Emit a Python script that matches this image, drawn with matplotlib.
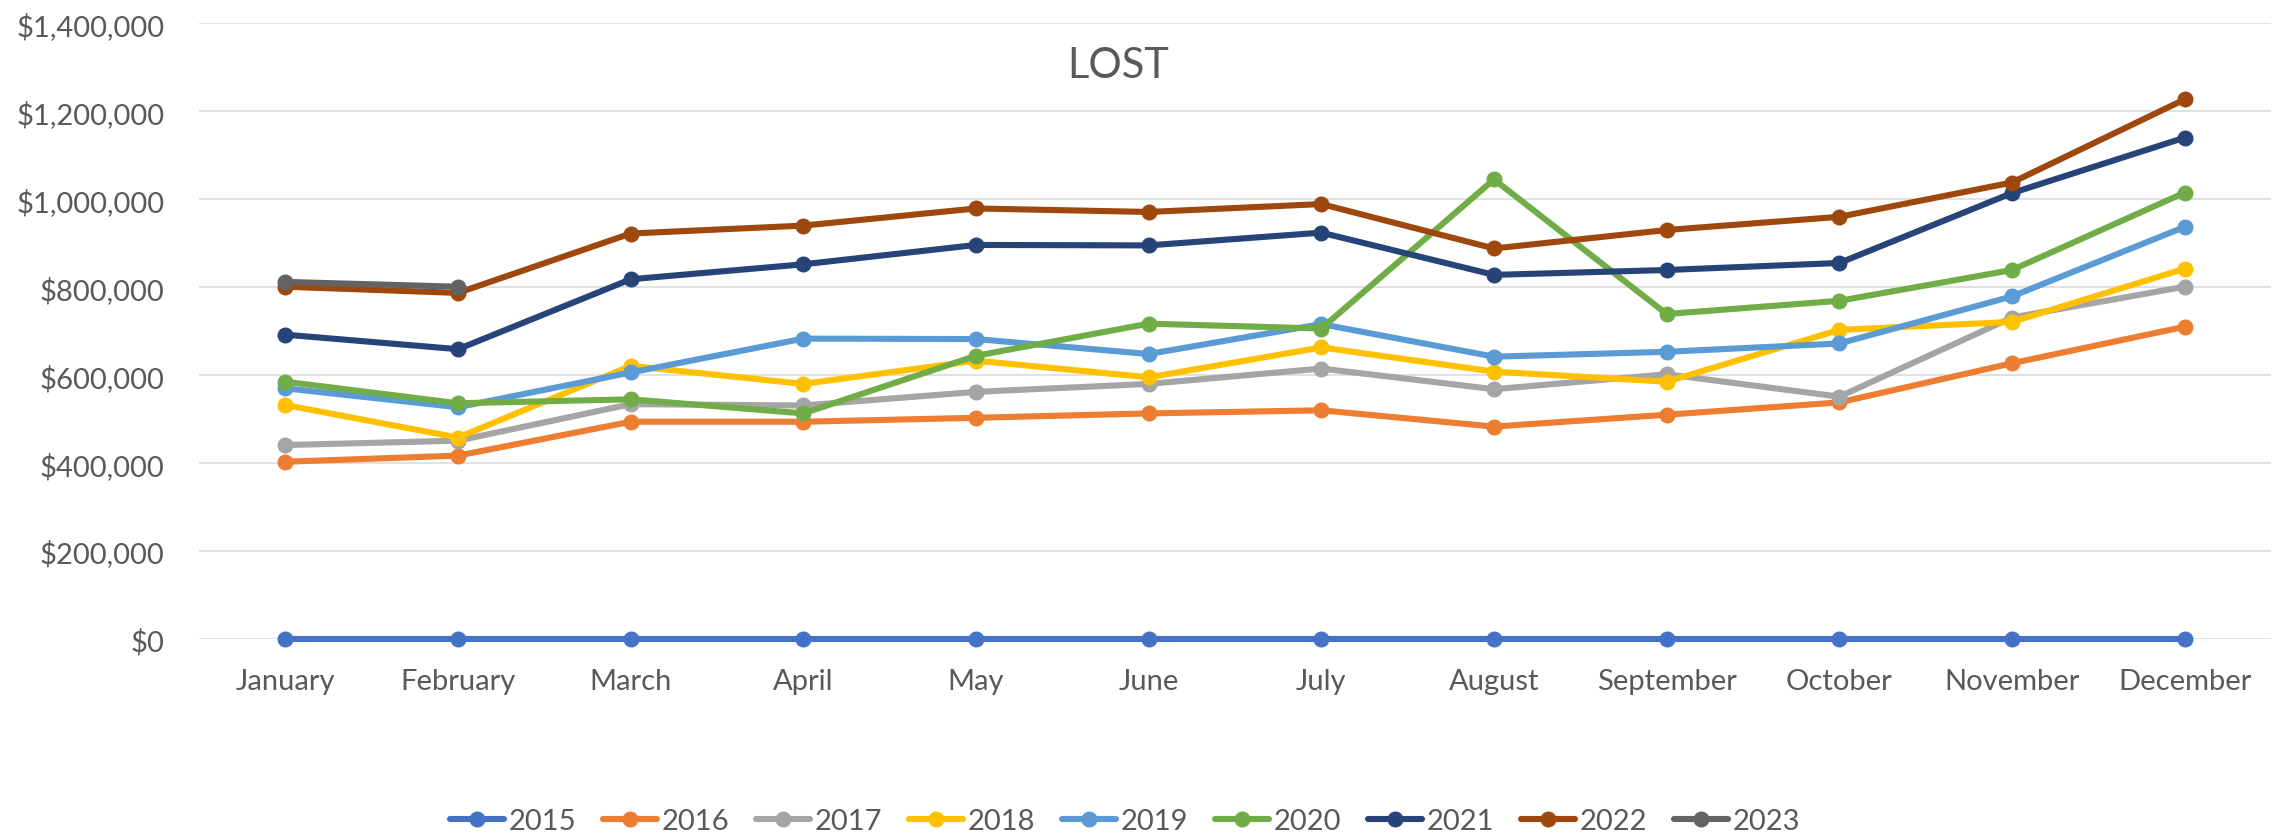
import matplotlib
matplotlib.use("Agg")
import matplotlib.pyplot as plt
from matplotlib.ticker import FuncFormatter

plt.rcParams['font.family'] = ['Lato', 'DejaVu Sans']

months = ["January", "February", "March", "April", "May", "June", "July",
          "August", "September", "October", "November", "December"]

y2015 = [0, 0, 0, 0, 0, 0, 0, 0, 0, 0, 0, 0]
y2016 = [403000, 417000, 494000, 494000, 503000, 513000, 520000, 483000, 510000, 538000, 627000, 710000]
y2017 = [441000, 451000, 534000, 531000, 562000, 580000, 615000, 568000, 602000, 551000, 731000, 801000]
y2018 = [532000, 458000, 621000, 580000, 633000, 595000, 663000, 608000, 585000, 703000, 721000, 842000]
y2019 = [570000, 527000, 606000, 683000, 682000, 648000, 716000, 642000, 653000, 672000, 779000, 937000]
y2020 = [585000, 536000, 545000, 513000, 644000, 717000, 706000, 1045000, 739000, 769000, 839000, 1015000]
y2021 = [692000, 659000, 818000, 852000, 896000, 895000, 924000, 828000, 839000, 855000, 1014000, 1140000]
y2022 = [801000, 787000, 922000, 940000, 979000, 971000, 989000, 888000, 930000, 960000, 1038000, 1227000]
y2023 = [812000, 801000]

years = ["2015", "2016", "2017", "2018", "2019", "2020", "2021", "2022", "2023"]
series = [y2015, y2016, y2017, y2018, y2019, y2020, y2021, y2022, y2023]
colors = ["#4472C4", "#ED7D31", "#A5A5A5", "#FFC000", "#5B9BD5",
          "#70AD47", "#264478", "#9E480E", "#636363"]

W, H = 2277, 837
fig = plt.figure(figsize=(W / 100, H / 100), dpi=100)
left, right = 199 / W, 2271 / W
bottom, top = 1 - 640 / H, 1 - 24.3 / H
ax = fig.add_axes([left, bottom, right - left, top - bottom])

x = list(range(len(months)))
for name, vals, c in zip(years, series, colors):
    ax.plot(x[:len(vals)], vals, color=c, lw=4.4, marker='o', ms=10.5,
            label=name, solid_capstyle='round', zorder=3, clip_on=False)

ax.set_xlim(-0.5, 11.5)
ax.set_ylim(0, 1400000)
ax.set_yticks(range(0, 1400001, 200000))
ax.yaxis.set_major_formatter(FuncFormatter(lambda v, p: "${:,.0f}".format(v)))
ax.set_xticks(x)
ax.set_xticklabels(months)
ax.grid(axis='y', color='#D9D9D9', lw=1.1, zorder=0)
ax.grid(axis='x', visible=False)
for s in ax.spines.values():
    s.set_visible(False)
ax.tick_params(axis='y', length=0, pad=25, labelsize=21, labelcolor='#595959')
ax.tick_params(axis='x', length=0, pad=21, labelsize=21, labelcolor='#595959')

fig.text(1118 / W, 1 - 78 / H, "LOST", ha='center', va='baseline',
         fontsize=30, color='#595959')

fig.legend(loc='center', bbox_to_anchor=(1125 / W, 1 - 822 / H), ncol=9,
           frameon=False, fontsize=21, labelcolor='#595959',
           handlelength=1.85, handletextpad=0.18, columnspacing=0.9,
           borderpad=0, borderaxespad=0)

fig.savefig("out.png", dpi=100, facecolor='white')
